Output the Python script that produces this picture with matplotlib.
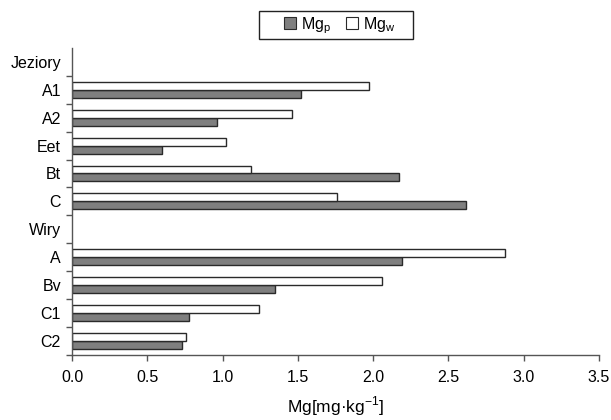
import matplotlib
matplotlib.use("Agg")
import matplotlib.pyplot as plt
from matplotlib.patches import Patch, Rectangle
import numpy as np

plt.rcParams['font.family'] = ['Liberation Sans', 'DejaVu Sans']
plt.rcParams['mathtext.fontset'] = 'custom'
plt.rcParams['mathtext.rm'] = 'Liberation Sans'

# Soil horizons grouped by site; group headers carry no values
categories = ["Jeziory", "A1", "A2", "Eet", "Bt", "C", "Wiry", "A", "Bv", "C1", "C2"]
mg_p = [None, 1.52, 0.96, 0.60, 2.17, 2.62, None, 2.19, 1.35, 0.78, 0.73]
mg_w = [None, 1.97, 1.46, 1.02, 1.19, 1.76, None, 2.88, 2.06, 1.24, 0.76]
x_ticks = [0.0, 0.5, 1.0, 1.5, 2.0, 2.5, 3.0, 3.5]

fig = plt.figure(figsize=(6.11, 4.20), dpi=100)
ax = fig.add_axes([0.118, 0.155, 0.862, 0.731])

h = 0.285
idx_p = [i for i, v in enumerate(mg_p) if v is not None]
idx_w = [i for i, v in enumerate(mg_w) if v is not None]
ax.barh([i + h / 2 for i in idx_p], [mg_p[i] for i in idx_p], height=h,
        color='#7f7f7f', edgecolor='#2a2a2a', linewidth=1.0)
ax.barh([i - h / 2 for i in idx_w], [mg_w[i] for i in idx_w], height=h,
        color='white', edgecolor='#2a2a2a', linewidth=1.0)

n = len(categories)
ax.set_ylim(n - 0.5, -0.5)
ax.set_xlim(0, 3.5)
ax.set_xticks(x_ticks)
ax.set_xticklabels([f"{t:.1f}" for t in x_ticks])

# group boundaries carry the tick marks, category names sit between them
ax.set_yticks(np.arange(n) + 0.5)
ax.set_yticklabels([])
ax.set_yticks(np.arange(n), minor=True)
ax.set_yticklabels(categories, minor=True)
ax.tick_params(axis='y', which='minor', length=0, pad=8, labelsize=11.5)
ax.tick_params(axis='y', which='major', length=4, width=1, color='#555555')
ax.tick_params(axis='x', length=4, width=1, color='#555555', labelsize=11.5, pad=7)

for s in ['top', 'right']:
    ax.spines[s].set_visible(False)
for s in ['left', 'bottom']:
    ax.spines[s].set_color('#555555')
    ax.spines[s].set_linewidth(1.0)

ax.set_xlabel('Mg[mg·kg$^{\\mathregular{-1}}$]', fontsize=12.5, labelpad=7)

# legend frame drawn separately so it can be wider than its entries
fig.add_artist(Rectangle((259 / 611, 1 - 39 / 420), 154 / 611, 28 / 420,
                         transform=fig.transFigure, facecolor='white',
                         edgecolor='#222222', linewidth=1.0))
handles = [Patch(facecolor='#7f7f7f', edgecolor='#2a2a2a', linewidth=0.8),
           Patch(facecolor='white', edgecolor='#2a2a2a', linewidth=0.8)]
labels = ['Mg$_{\\mathregular{p}}$', 'Mg$_{\\mathregular{w}}$']
leg = fig.legend(handles, labels, loc='center', bbox_to_anchor=(0.556, 0.940),
                 ncol=2, fontsize=11.5, frameon=False,
                 handlelength=0.75, handleheight=0.75, handletextpad=0.3,
                 columnspacing=0.9, borderpad=0.2)

fig.savefig('out.png', dpi=100)
